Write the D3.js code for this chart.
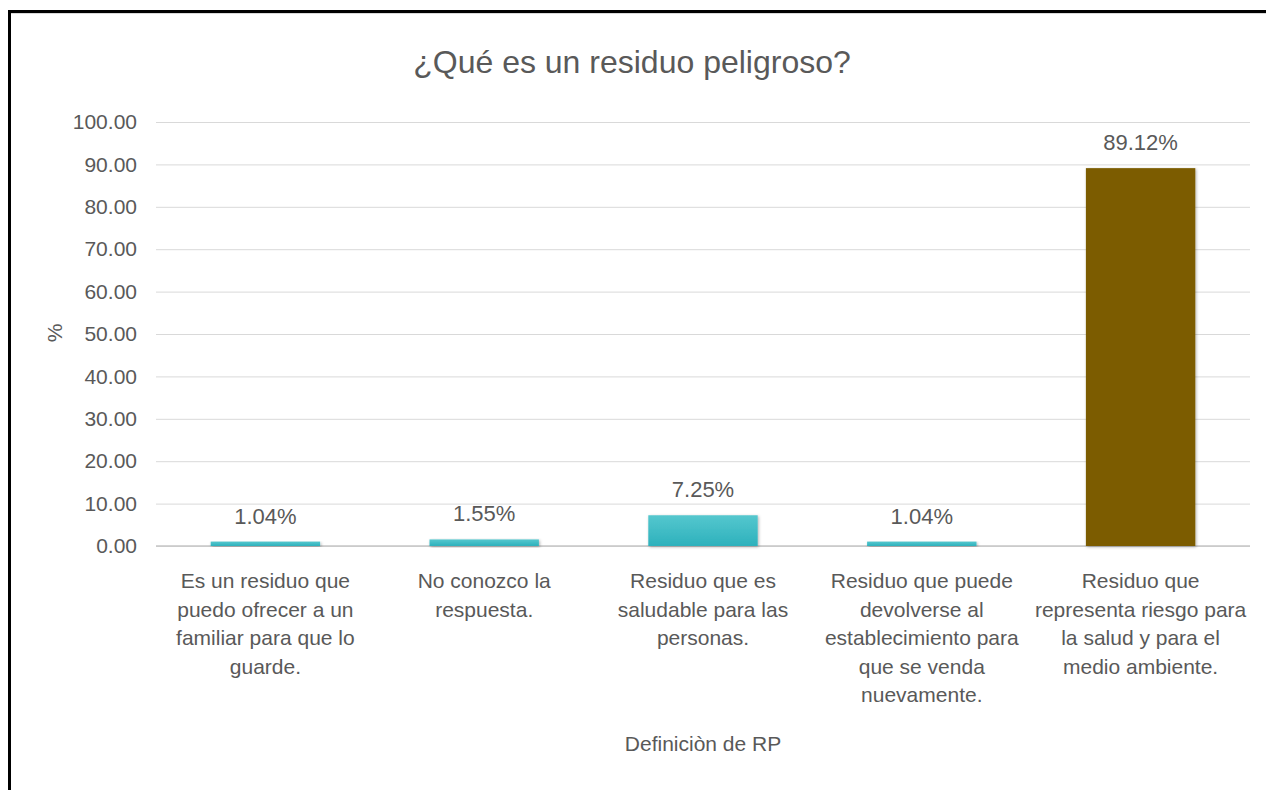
<!DOCTYPE html>
<html lang="es">
  <head>
    <meta charset="utf-8">
    <title>¿Qué es un residuo peligroso?</title>
    <style>
      body { margin: 0; background: #fff; }
      svg { display: block; font-family: "Liberation Sans", Arial, sans-serif; }
    </style>
    <script src="https://d3js.org/d3.v7.min.js"></script>
  </head>
  <body>
    <div class="chart"></div>
    <script>
    // data
    const categories = ["c1", "c2", "c3", "c4", "c5"];
    const categoryLines = [
      ["Es un residuo que", "puedo ofrecer a un", "familiar para que lo", "guarde."],
      ["No conozco la", "respuesta."],
      ["Residuo que es", "saludable para las", "personas."],
      ["Residuo que puede", "devolverse al", "establecimiento para", "que se venda", "nuevamente."],
      ["Residuo que", "representa riesgo para", "la salud y para el", "medio ambiente."]
    ];
    const values = [1.04, 1.55, 7.25, 1.04, 89.12];
    const barKinds = ["teal", "teal", "teal", "teal", "brown"];
    const yTicks = [0, 10, 20, 30, 40, 50, 60, 70, 80, 90, 100];

    const W = 1266, H = 790;
    const plot = { left: 156, right: 1250, top: 122, bottom: 546 };
    const textColor = "#595959";

    const svg = d3.select(".chart").append("svg")
      .attr("width", W)
      .attr("height", H);

    const defs = svg.append("defs");
    const grad = defs.append("linearGradient")
      .attr("id", "teal").attr("x1", 0).attr("y1", 0).attr("x2", 0).attr("y2", 1);
    grad.append("stop").attr("offset", "0%").attr("stop-color", "#55c7ce");
    grad.append("stop").attr("offset", "100%").attr("stop-color", "#2db1bc");
    defs.append("filter").attr("id", "shadow")
      .attr("x", "-10%").attr("y", "-10%").attr("width", "130%").attr("height", "130%")
      .append("feDropShadow")
      .attr("dx", 1).attr("dy", 1).attr("stdDeviation", 1.5)
      .attr("flood-color", "#000").attr("flood-opacity", 0.3);

    // outer frame (only top and left edges fall inside the picture)
    svg.append("rect")
      .attr("x", 9.5).attr("y", 11.5)
      .attr("width", 1400).attr("height", 1000)
      .attr("fill", "none")
      .attr("stroke", "#000")
      .attr("stroke-width", 3);
    svg.append("line")
      .attr("x1", 11).attr("x2", W).attr("y1", 13.5).attr("y2", 13.5)
      .attr("stroke", "#d9d9d9").attr("stroke-width", 1);

    const x = d3.scaleBand()
      .domain(categories)
      .range([plot.left, plot.right])
      .paddingInner(0.5)
      .paddingOuter(0.25);

    const y = d3.scaleLinear()
      .domain([0, 100])
      .range([plot.bottom, plot.top]);

    // y axis with gridlines
    const yAxis = svg.append("g")
      .attr("transform", `translate(${plot.left},0)`)
      .call(d3.axisLeft(y)
        .tickValues(yTicks)
        .tickFormat(d3.format(".2f"))
        .tickSize(-(plot.right - plot.left))
        .tickPadding(19));
    yAxis.select(".domain").remove();
    yAxis.selectAll(".tick line").attr("stroke", "#d9d9d9").attr("stroke-width", 1);
    yAxis.selectAll(".tick text")
      .attr("fill", textColor)
      .style("font-size", "21px")
      .style("font-family", "Liberation Sans, Arial, sans-serif");

    // base line
    svg.append("line")
      .attr("x1", plot.left).attr("x2", plot.right)
      .attr("y1", y(0)).attr("y2", y(0))
      .attr("stroke", "#c6c6c6").attr("stroke-width", 1.5);

    // bars
    svg.selectAll("rect.bar")
      .data(values)
      .join("rect")
      .attr("class", "bar")
      .attr("x", (d, i) => x(categories[i]))
      .attr("width", x.bandwidth())
      .attr("y", d => y(d))
      .attr("height", d => y(0) - y(d))
      .attr("fill", (d, i) => barKinds[i] === "teal" ? "url(#teal)" : "#7b5c00")
      .attr("filter", "url(#shadow)");

    // value labels
    svg.selectAll("text.val")
      .data(values)
      .join("text")
      .attr("class", "val")
      .attr("x", (d, i) => x(categories[i]) + x.bandwidth() / 2)
      .attr("y", d => y(d) - 18)
      .attr("text-anchor", "middle")
      .attr("fill", textColor)
      .style("font-size", "22px")
      .text(d => d.toFixed(2) + "%");

    // category labels
    const catText = svg.selectAll("text.cat")
      .data(categoryLines)
      .join("text")
      .attr("class", "cat")
      .attr("text-anchor", "middle")
      .attr("fill", textColor)
      .style("font-size", "21px");
    catText.selectAll("tspan")
      .data((d, i) => d.map(t => ({ t, i })))
      .join("tspan")
      .attr("x", d => x(categories[d.i]) + x.bandwidth() / 2)
      .attr("y", (d, j) => 588 + j * 28.5)
      .text(d => d.t);

    // titles
    svg.append("text")
      .attr("x", 632).attr("y", 73)
      .attr("text-anchor", "middle")
      .attr("fill", textColor)
      .style("font-size", "32px")
      .text("¿Qué es un residuo peligroso?");

    svg.append("text")
      .attr("x", (plot.left + plot.right) / 2).attr("y", 751)
      .attr("text-anchor", "middle")
      .attr("fill", textColor)
      .style("font-size", "21px")
      .text("Definiciòn de RP");

    svg.append("text")
      .attr("transform", "translate(62,333) rotate(-90)")
      .attr("text-anchor", "middle")
      .attr("fill", textColor)
      .style("font-size", "21px")
      .text("%");
    </script>
  </body>
